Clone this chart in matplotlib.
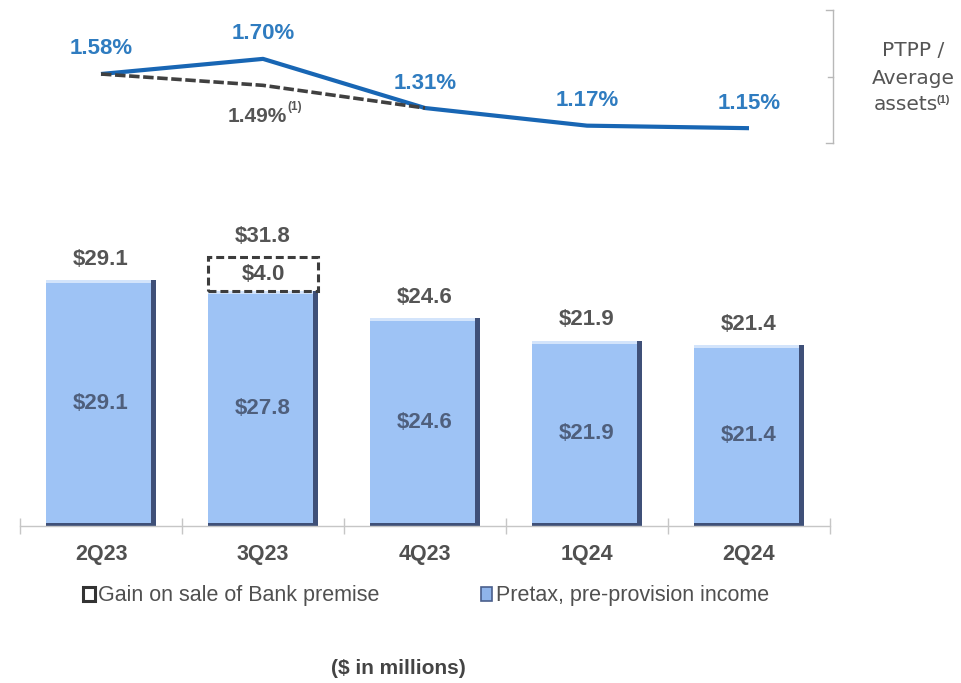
import matplotlib
matplotlib.use("Agg")
import matplotlib.pyplot as plt
from matplotlib.lines import Line2D
from matplotlib.patches import Patch

plt.rcParams['font.family'] = ['Liberation Sans', 'DejaVu Sans']

# ---- data ($ in millions, ratios in %) ----
quarters = ["2Q23", "3Q23", "4Q23", "1Q24", "2Q24"]
ptpp_income = [29.1, 27.8, 24.6, 21.9, 21.4]
premise_gain = [0.0, 4.0, 0.0, 0.0, 0.0]
ptpp_ratio = [1.58, 1.70, 1.31, 1.17, 1.15]
adj_quarters = ["2Q23", "3Q23", "4Q23"]
adj_ratio = [1.58, 1.49, 1.31]

W, H = 961, 683
fig = plt.figure(figsize=(W / 100, H / 100), dpi=100)
fig.patch.set_facecolor("white")

def px_rect(x0, y_top, x1, y_bot):
    return [x0 / W, 1 - y_bot / H, (x1 - x0) / W, (y_bot - y_top) / H]

# ---- bar panel ----
ymax = 35.0
base_px = 526
ax = fig.add_axes(px_rect(20, base_px - ymax * 8.45, 830, base_px))
ax.set_xlim(-0.5, len(quarters) - 0.5)
ax.set_ylim(0, ymax)
for s in ["top", "right", "left"]:
    ax.spines[s].set_visible(False)
ax.spines["bottom"].set_color("#c6c6c6")
ax.spines["bottom"].set_linewidth(1.0)
ax.set_yticks([])

x = list(range(len(quarters)))
bw = 0.685
edge_w = 0.032       # dark right-hand bevel
edge_h = 0.35        # dark bottom bevel
hi_h = 0.38          # light top bevel

# bevel shadow, face and top highlight
ax.bar(x, ptpp_income, width=bw, color="#3f5078", zorder=2)
ax.bar([c - edge_w / 2 for c in x], [v - edge_h for v in ptpp_income],
       bottom=edge_h, width=bw - edge_w, color="#9ec3f5", zorder=3)
ax.bar([c - edge_w / 2 for c in x], [hi_h] * len(x),
       bottom=[v - hi_h for v in ptpp_income], width=bw - edge_w,
       color="#d3e4fb", zorder=4)

# one-time gain stacked on top (dashed outline)
gx = [c for c, g in zip(x, premise_gain) if g > 0]
gv = [g for g in premise_gain if g > 0]
gb = [p for p, g in zip(ptpp_income, premise_gain) if g > 0]
ax.bar(gx, gv, bottom=gb, width=bw, facecolor="none", edgecolor="#3c3c3c",
       linewidth=2.2, linestyle=(0, (2.6, 1.3)), zorder=5)

for c, p, g in zip(x, ptpp_income, premise_gain):
    ax.text(c, p / 2, f"${p:.1f}", ha="center", va="center", fontsize=16,
            fontweight="bold", color="#4f5f7c", zorder=6)
    if g > 0:
        ax.text(c, p + g / 2, f"${g:.1f}", ha="center", va="center",
                fontsize=16, fontweight="bold", color="#505050", zorder=6)
    ax.annotate(f"${p + g:.1f}", (c, p + g), xytext=(0, 21),
                textcoords="offset pixels", ha="center", va="center",
                fontsize=16, fontweight="bold", color="#555555")

ax.set_xticks(x)
ax.set_xticklabels(quarters, fontsize=15.5, fontweight="bold", color="#505050")
ax.tick_params(axis="x", which="major", length=0, pad=13)
ax.set_xticks([c - 0.5 for c in x] + [x[-1] + 0.5], minor=True)
ax.tick_params(axis="x", which="minor", direction="inout", length=12,
               color="#c6c6c6", width=1.0)

# ---- ratio line panel ----
lax = fig.add_axes(px_rect(20, 74 - (1.9 - 1.58) * 126, 830, 74 + (1.58 - 1.0) * 126))
lax.set_xlim(-0.5, len(quarters) - 0.5)
lax.set_ylim(1.0, 1.9)
lax.axis("off")
lax.patch.set_alpha(0)

adj_x = [quarters.index(q) for q in adj_quarters]
lax.plot(adj_x, adj_ratio, color="#404040", linewidth=2.6,
         linestyle=(0, (2.9, 1.0)), zorder=3)
lax.plot(x, ptpp_ratio, color="#1866b4", linewidth=3.0, zorder=2,
         solid_capstyle="butt")
for c, v in zip(x, ptpp_ratio):
    lax.annotate(f"{v:.2f}%", (c, v), xytext=(0, 25), textcoords="offset pixels",
                 ha="center", va="center", fontsize=16, fontweight="bold",
                 color="#2f7cc0")
lax.annotate(f"{adj_ratio[1]:.2f}%", (adj_x[1], adj_ratio[1]), xytext=(-6, -31),
             textcoords="offset pixels", ha="center", va="center", fontsize=15,
             fontweight="bold", color="#555555")
lax.annotate("(1)", (adj_x[1], adj_ratio[1]), xytext=(32, -22),
             textcoords="offset pixels", ha="center", va="center", fontsize=8.5,
             fontweight="bold", color="#555555")

# ---- bracket and side caption ----
bx = 833 / W
for seg in [((bx, bx), (1 - 10 / H, 1 - 143 / H)),
            ((826 / W, bx), (1 - 10 / H, 1 - 10 / H)),
            ((826 / W, bx), (1 - 143 / H, 1 - 143 / H)),
            ((828 / W, bx), (1 - 77 / H, 1 - 77 / H))]:
    fig.add_artist(Line2D(seg[0], seg[1], color="#b8b8b8", linewidth=1.0))

cap_kw = dict(ha="center", va="center", fontsize=14.5, color="#555555",
              family="DejaVu Sans")
fig.text(913 / W, 1 - 51 / H, "PTPP /", **cap_kw)
fig.text(913 / W, 1 - 78 / H, "Average", **cap_kw)
fig.text(906 / W, 1 - 104 / H, "assets", **cap_kw)
fig.text(943 / W, 1 - 100 / H, "(1)", ha="center", va="center", fontsize=8,
         fontweight="bold", color="#555555")

# ---- legend ----
handles = [Patch(facecolor="white", edgecolor="#333333", linewidth=2.2),
           Patch(facecolor="#8fb4ea", edgecolor="#4a5f8c", linewidth=1.2)]
labels = ["Gain on sale of Bank premise", "Pretax, pre-provision income"]
fig.legend(handles, labels, loc="center left", bbox_to_anchor=(83 / W, 1 - 596 / H),
           ncol=2, frameon=False, fontsize=15.5, handlelength=0.55, handleheight=0.65,
           handletextpad=0.15, columnspacing=4.7, borderpad=0, borderaxespad=0,
           labelcolor="#505050")

fig.text(398 / W, 1 - 668 / H, "($ in millions)", ha="center", va="center",
         fontsize=15, fontweight="bold", color="#444444")

fig.savefig("out.png", dpi=100)
